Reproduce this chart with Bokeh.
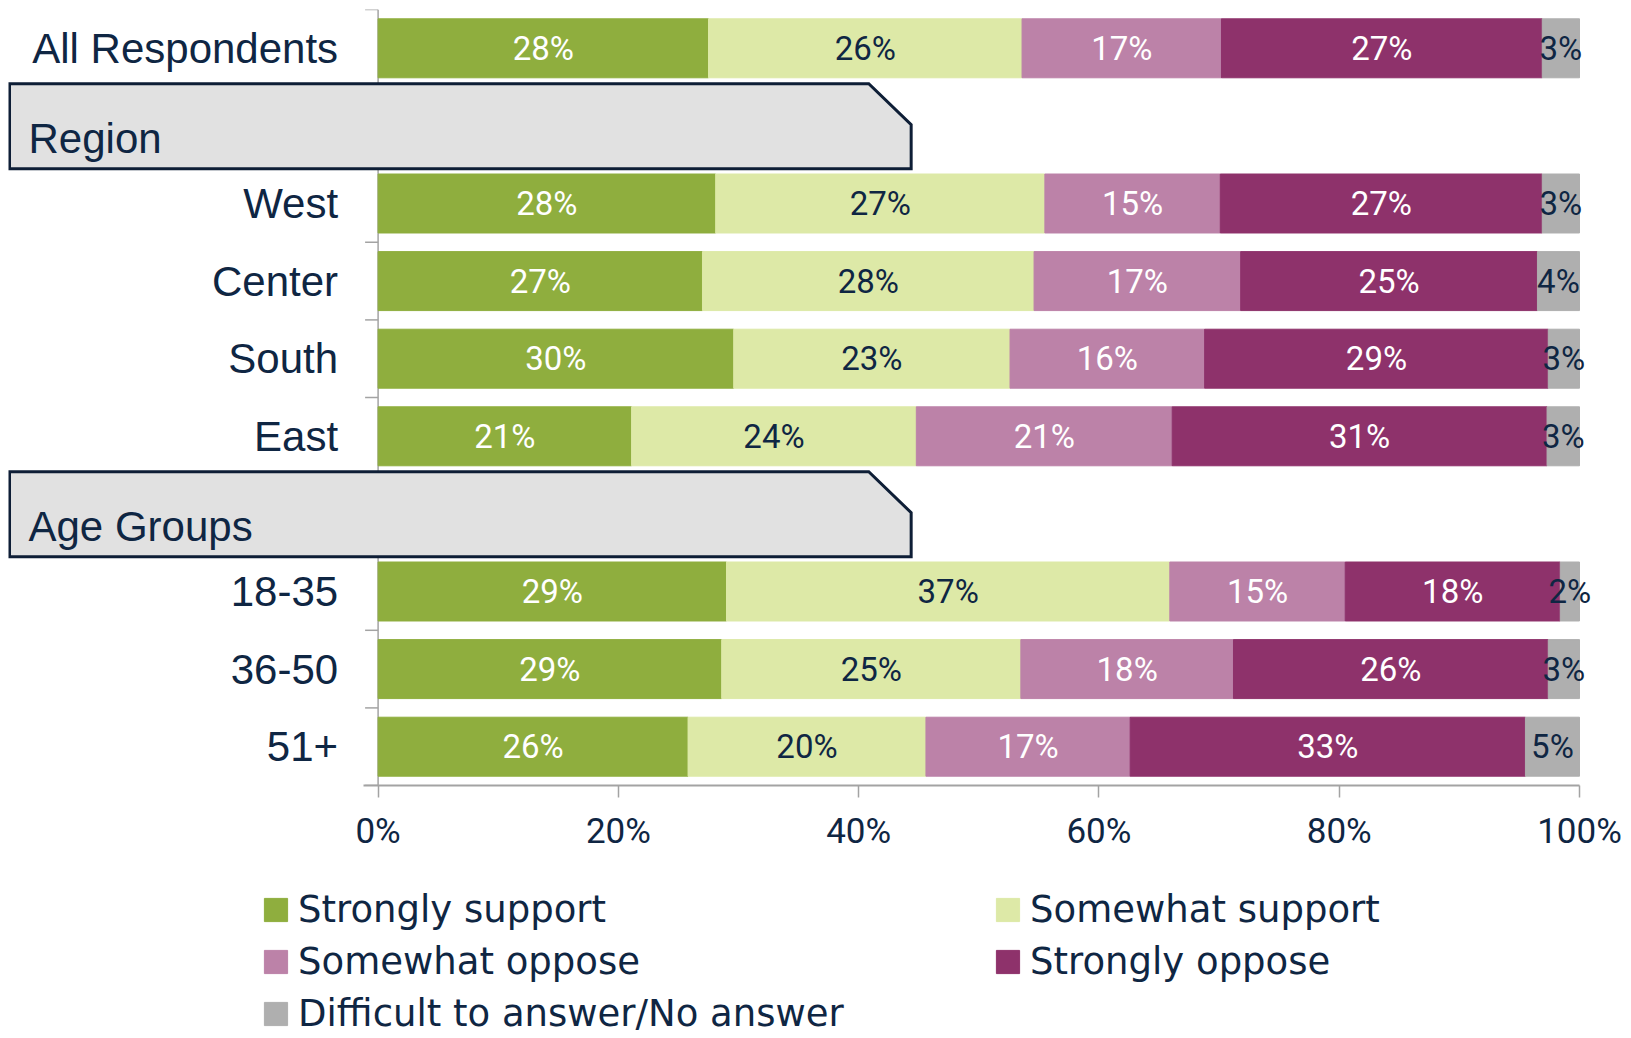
from bokeh.plotting import figure
from bokeh.models import (Range1d, ColumnDataSource, FixedTicker, CustomJSTickFormatter,
                          Legend, LegendItem)
from bokeh.layouts import column
from bokeh.core.properties import value
from bokeh.embed import file_html
from bokeh.resources import INLINE

# ---------------- data ----------------
categories = ["All Respondents", "West", "Center", "South", "East", "18-35", "36-50", "51+"]
category_rows = [0, 2, 3, 4, 5, 7, 8, 9]
group_names = ["Region", "Age Groups"]
group_rows = [1, 6]
series_names = ["Strongly support", "Somewhat support", "Somewhat oppose",
                "Strongly oppose", "Difficult to answer/No answer"]
strongly_support = [27.5, 28.1, 27.0, 29.6, 21.1, 29.0, 28.6, 25.8]
somewhat_support = [26.1, 27.4, 27.6, 23.0, 23.7, 36.9, 24.9, 19.8]
somewhat_oppose = [16.6, 14.6, 17.2, 16.2, 21.3, 14.6, 17.7, 17.0]
strongly_oppose = [26.7, 26.8, 24.7, 28.6, 31.2, 17.9, 26.2, 32.9]
no_answer = [3.1, 3.1, 3.5, 2.6, 2.7, 1.6, 2.6, 4.5]
x_ticks = [0, 20, 40, 60, 80, 100]

# ---------------- styles ----------------
NAVY = "#0F2643"
AXIS_GRAY = "#A3A3A3"
COLORS = ["#8FAE3E", "#DDE9A7", "#BC82A8", "#8E326B", "#AFAFAF"]
LABEL_COLORS = ["#FFFFFF", NAVY, "#FFFFFF", "#FFFFFF", NAVY]
BOX_FILL = "#E1E1E1"
BOX_LINE = "#0E1E36"
FONT = "Liberation Sans"
NUM_FONT = "Roboto"
LEGEND_FONT = "DejaVu Sans"

PX_PER_PCT = 12.014
LEFT_PAD = 8
TOP_PAD = 9
FRAME_W = 1615
FRAME_H = 776
BOTTOM_PAD = 75
P1_H = TOP_PAD + FRAME_H + BOTTOM_PAD
P2_H = 1036 - P1_H
X_MIN = -369.6 / PX_PER_PCT
X_MAX = X_MIN + FRAME_W / PX_PER_PCT
N_ROWS = max(category_rows) + 1
BAR_H = 0.76

keys = ["strongly_support", "somewhat_support", "somewhat_oppose", "strongly_oppose", "no_answer"]
series_values = [strongly_support, somewhat_support, somewhat_oppose, strongly_oppose, no_answer]

data = {"row": category_rows}
for k, v in zip(keys, series_values):
    data[k] = v
source = ColumnDataSource(data)

p = figure(width=LEFT_PAD + FRAME_W, height=P1_H,
           x_range=Range1d(X_MIN, X_MAX), y_range=Range1d(N_ROWS - 0.5, -0.5),
           output_backend="svg", toolbar_location=None, y_axis_location=None,
           min_border_left=LEFT_PAD, min_border_right=0, min_border_top=TOP_PAD,
           min_border_bottom=BOTTOM_PAD)
p.outline_line_color = None
p.grid.visible = False

# vertical category axis line and tick marks (under the header boxes)
p.segment(x0=[0], y0=[-0.5], x1=[0], y1=[N_ROWS - 0.5], line_color=AXIS_GRAY, line_width=1.5)
bounds = [r - 0.5 for r in range(N_ROWS + 1)]
p.segment(x0=[-13 / PX_PER_PCT] * len(bounds), y0=bounds, x1=[0] * len(bounds), y1=bounds,
          line_color=AXIS_GRAY, line_width=1.5)

# stacked bars
p.hbar_stack(keys, y="row", height=BAR_H, color=COLORS, source=source)

# value labels
left = [0.0] * len(categories)
for vals, lc in zip(series_values, LABEL_COLORS):
    mids = [l + v / 2 for l, v in zip(left, vals)]
    labels = [f"{int(v + 0.5)}%" for v in vals]
    p.text(x=mids, y=category_rows, text=labels, text_color=lc,
           text_font=value(NUM_FONT), text_font_size="33px",
           text_align="center", text_baseline="middle")
    left = [l + v for l, v in zip(left, vals)]

# category labels
p.text(x=[0] * len(categories), y=category_rows, text=categories, x_offset=-40,
       text_color=NAVY, text_font=value(FONT), text_font_size="42px",
       text_align="right", text_baseline="middle")

# group header boxes
BOX_LEFT = X_MIN + 1.0 / PX_PER_PCT
BOX_NOTCH_X = 40.84
BOX_RIGHT = 44.37
box_xs, box_ys = [], []
for r in group_rows:
    top, notch, bot = r - 0.544, r - 0.016, r + 0.552
    box_xs.append([BOX_LEFT, BOX_NOTCH_X, BOX_RIGHT, BOX_RIGHT, BOX_LEFT])
    box_ys.append([top, top, notch, bot, bot])
p.patches(box_xs, box_ys, fill_color=BOX_FILL, line_color=BOX_LINE, line_width=3,
          line_join="miter")
p.text(x=[X_MIN] * len(group_rows), y=[r + 0.16 for r in group_rows], text=group_names,
       x_offset=20, text_color=NAVY, text_font=value(FONT), text_font_size="42px",
       text_align="left", text_baseline="middle")

# x axis
ax = p.xaxis[0]
ax.ticker = FixedTicker(ticks=x_ticks)
ax.formatter = CustomJSTickFormatter(code="return tick + '%';")
ax.bounds = (-1.2, 100)
ax.axis_line_color = AXIS_GRAY
ax.axis_line_width = 2
ax.major_tick_line_color = AXIS_GRAY
ax.major_tick_line_width = 1.5
ax.major_tick_in = 0
ax.major_tick_out = 12
ax.minor_tick_line_color = None
ax.major_label_text_font = NUM_FONT
ax.major_label_text_font_size = "35px"
ax.major_label_text_color = NAVY
ax.major_label_standoff = 13

# legend figure: same series, bars kept outside its visible range, only the legends show
p2 = figure(width=LEFT_PAD + FRAME_W, height=P2_H,
            x_range=Range1d(0, 100), y_range=Range1d(N_ROWS + 10, N_ROWS + 11),
            output_backend="svg", toolbar_location=None,
            x_axis_location=None, y_axis_location=None, min_border=0)
p2.outline_line_color = None
p2.grid.visible = False
leg_bars = p2.hbar_stack(keys, y="row", height=BAR_H, color=COLORS, source=source)

ITEM_H = 43
LEG_SPACING = 9
GLYPH = 29          # legend swatch is drawn at 80% of this box
LEG_SHIFT = -8      # measured internal offset of the legend box
ROW1_CENTER = 909 - P1_H  # in p2 pixels from its top


def make_legend(indices, x_px):
    n = len(indices)
    height = n * ITEM_H + (n - 1) * LEG_SPACING
    top = ROW1_CENTER - ITEM_H / 2
    vy = P2_H - (top + height)
    lg = Legend(items=[LegendItem(label=series_names[i], renderers=[leg_bars[i]]) for i in indices],
                location=(x_px - 0.1 * GLYPH + LEG_SHIFT, vy), orientation="vertical",
                glyph_width=GLYPH, glyph_height=GLYPH, label_standoff=8,
                spacing=LEG_SPACING, padding=0, margin=0,
                border_line_color=None, background_fill_alpha=0,
                label_text_font=LEGEND_FONT, label_text_font_size="37px",
                label_text_color=NAVY)
    p2.add_layout(lg)


make_legend([0, 2, 4], 264)
make_legend([1, 3], 996)

layout = column(p, p2, spacing=0)
open("out.html", "w").write(file_html(layout, INLINE))
